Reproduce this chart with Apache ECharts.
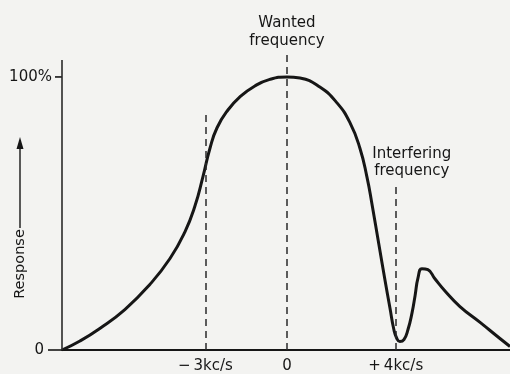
<!DOCTYPE html>
<html>
<head>
<meta charset="utf-8">
<script src="https://cdn.jsdelivr.net/npm/echarts@6/dist/echarts.min.js"></script>
<style>
  html, body { margin: 0; padding: 0; background: #f3f3f1; }
  #chart { width: 510px; height: 374px; }
</style>
</head>
<body>
<div id="chart"></div>
<script>
// Frequency offset from the wanted carrier (kc/s)
const freq = [-8.27, -7.61, -6.88, -5.96, -5.04, -4.30, -3.75, -3.38, -3.09, -2.83, -2.57, -2.17,
  -1.73, -1.18, -0.63, 0, 0.48, 1.21, 1.84, 2.32, 2.68, 2.94, 3.13, 3.38, 3.60, 3.79, 3.93, 4.04,
  4.15, 4.30, 4.45, 4.60, 4.71, 4.82, 4.96, 5.18, 5.44, 5.81, 6.36, 7.10, 7.83, 8.20];
// Receiver response (% of the response at the wanted frequency)
const response = [0, 3.3, 7.9, 14.8, 24.0, 33.5, 43.3, 52.8, 63.4, 73.9, 81.4, 87.9,
  92.7, 96.7, 99.1, 100, 99.6, 96.3, 90.5, 83.2, 74.0, 63.4, 53.2, 38.6, 25.8, 15.2, 7.5, 4.2,
  3.1, 3.8, 7.5, 13.7, 19.9, 26.5, 29.8, 29.4, 26.1, 21.6, 15.9, 10.1, 4.2, 1.3];

// Reference frequencies marked with dashed verticals, and how high each line reaches (%)
const markerFreq = [-3, 0, 4];
const markerTop = [87.2, 109.5, 60.5];
const xTickLabels = ['\u2212\u20093kc/s', '0', '+\u20094kc/s'];

// Response axis ticks
const yTickValues = [0, 100];
const yTickLabels = ['0', '100%'];
const yTickLength = [14, 7];
const yAxisTop = 106.2;

const X_MIN = -8.27, X_MAX = 8.2, Y_MAX = 110;
const INK = '#161616';
const FONT = 'DejaVu Sans';
const FONT_SIZE = 15;

const chart = echarts.init(document.getElementById('chart'), null, { renderer: 'canvas' });

const pairs = freq.map((f, i) => [f, response[i]]);

const markLines = markerFreq.map((f, i) => [
  { coord: [f, 0] },
  { coord: [f, markerTop[i]] }
]);
// Vertical response axis, drawn up to its own top
markLines.push([
  { coord: [X_MIN, 0], lineStyle: { type: 'solid', width: 1.6, color: '#2a2a2a' } },
  { coord: [X_MIN, yAxisTop] }
]);

function pickIndex(values, v) {
  return values.findIndex(t => Math.abs(t - v) < 1e-6);
}

chart.setOption({
  animation: false,
  backgroundColor: '#f3f3f1',
  grid: { left: 62, right: 0, top: 49.65, bottom: 23.5 },
  xAxis: {
    type: 'value',
    min: X_MIN,
    max: X_MAX,
    axisLine: { show: true, onZero: false, lineStyle: { color: INK, width: 2 } },
    axisTick: { show: false },
    splitLine: { show: false },
    axisLabel: {
      customValues: markerFreq,
      formatter: (v) => { const i = pickIndex(markerFreq, v); return i >= 0 ? xTickLabels[i] : ''; },
      margin: 9,
      color: INK,
      fontFamily: FONT,
      fontSize: FONT_SIZE
    }
  },
  yAxis: {
    type: 'value',
    min: 0,
    max: Y_MAX,
    axisLine: { show: false },
    axisTick: { show: false },
    splitLine: { show: false },
    axisLabel: {
      customValues: yTickValues,
      formatter: (v) => {
        const i = pickIndex(yTickValues, v);
        return i >= 0 ? '{t' + i + '|' + yTickLabels[i] + '}' : '';
      },
      margin: 2,
      color: INK,
      fontFamily: FONT,
      fontSize: FONT_SIZE,
      rich: {
        t0: { padding: [0, yTickLength[0] + 2, 0, 0], fontFamily: FONT, fontSize: FONT_SIZE, color: INK },
        t1: { padding: [0, yTickLength[1] + 1, 0, 0], fontFamily: FONT, fontSize: FONT_SIZE, color: INK }
      }
    }
  },
  series: [{
    type: 'line',
    data: pairs,
    smooth: 0.5,
    showSymbol: false,
    lineStyle: { color: INK, width: 3 },
    markLine: {
      silent: true,
      symbol: 'none',
      label: { show: false },
      lineStyle: { color: '#2a2a2a', width: 1.5, type: [7, 5] },
      data: markLines
    }
  }]
});

// Annotations anchored to the tops of the marker lines, and the response-axis ticks
const wantedTop = chart.convertToPixel({ seriesIndex: 0 }, [markerFreq[1], markerTop[1]]);
const interTop = chart.convertToPixel({ seriesIndex: 0 }, [markerFreq[2], markerTop[2]]);

const label = (text, x, y, lineHeight) => ({
  type: 'text',
  x, y,
  style: {
    text,
    fill: INK,
    font: FONT_SIZE + 'px "' + FONT + '"',
    align: 'center',
    verticalAlign: 'middle',
    lineHeight
  }
});

const tickMarks = yTickValues.map((v, i) => {
  const p = chart.convertToPixel({ seriesIndex: 0 }, [X_MIN, v]);
  return {
    type: 'line',
    shape: { x1: p[0] - yTickLength[i], y1: p[1], x2: p[0], y2: p[1] },
    style: { stroke: INK, lineWidth: 1.6 }
  };
});

chart.setOption({
  graphic: [
    label('Wanted\nfrequency', wantedTop[0], wantedTop[1] - 19, 18.5),
    label('Interfering\nfrequency', interTop[0] + 16, interTop[1] - 22, 17),
    ...tickMarks,
    {
      type: 'text',
      x: 20, y: 264,
      rotation: Math.PI / 2,
      style: {
        text: 'Response',
        fill: INK,
        font: '14.5px "' + FONT + '"',
        align: 'center',
        verticalAlign: 'middle'
      }
    },
    {
      type: 'line',
      shape: { x1: 20, y1: 228, x2: 20, y2: 146 },
      style: { stroke: INK, lineWidth: 1.4 }
    },
    {
      type: 'polygon',
      shape: { points: [[20, 137], [16.5, 149], [23.5, 149]] },
      style: { fill: INK }
    }
  ]
});
</script>
</body>
</html>
